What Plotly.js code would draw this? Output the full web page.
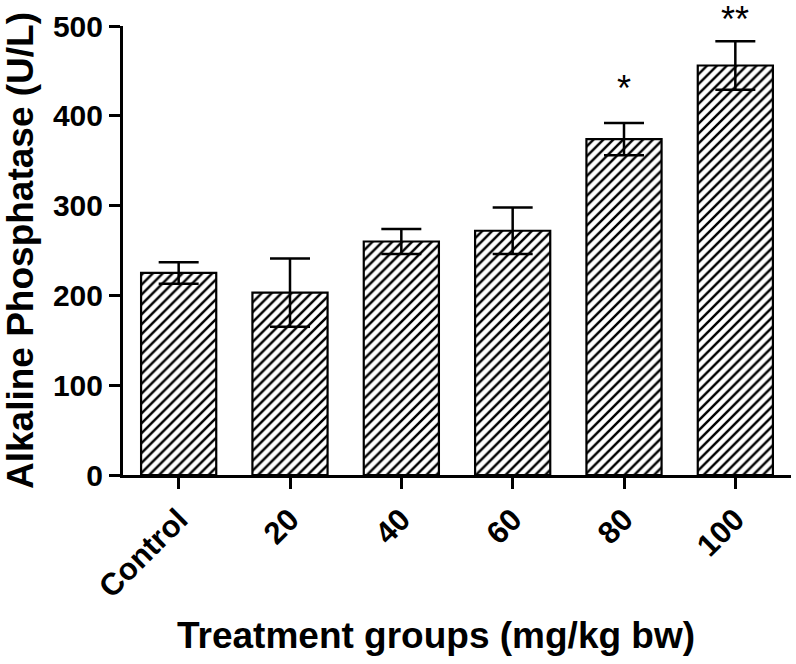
<!DOCTYPE html>
<html>
<head>
<meta charset="utf-8">
<script src="https://cdn.plot.ly/plotly-3.0.1.min.js"></script>
<style>html,body{margin:0;padding:0;background:#fff;}#chart{width:796px;height:664px;}</style>
</head>
<body>
<div id="chart"></div>
<script>
const groups = ["Control", "20", "40", "60", "80", "100"];
const alpValues = [225, 203, 260, 272, 374, 456];
const alpErrors = [12, 38, 14, 26, 18, 27];
const significance = ["", "", "", "", "*", "**"];
const starShift = [0, 0, 0, 0, 13, 0];

const FONT = "Liberation Sans, Arial, Helvetica, sans-serif";

const trace = {
  type: "bar",
  x: groups,
  y: alpValues,
  width: 0.675,
  marker: {
    color: "#ffffff",
    line: {color: "#000000", width: 2.2},
    pattern: {shape: "/", fgcolor: "#000000", bgcolor: "#ffffff", size: 7, solidity: 0.35}
  },
  error_y: {type: "data", array: alpErrors, visible: true, color: "#000000", thickness: 2.5, width: 20},
  hoverinfo: "skip",
  cliponaxis: false
};

const annotations = [];
groups.forEach((g, i) => {
  if (significance[i]) {
    annotations.push({
      x: i, y: alpValues[i] + alpErrors[i], xref: "x", yref: "y",
      text: significance[i], showarrow: false, yanchor: "bottom", yshift: starShift[i],
      borderpad: 0,
      font: {family: FONT, size: 36, color: "#000"}
    });
  }
});
annotations.push({
  xref: "paper", yref: "paper", x: (436 - 123) / 668, y: -(648 - 475) / 449,
  xanchor: "center", yanchor: "bottom", yshift: -10, showarrow: false,
  text: "Treatment groups (mg/kg bw)",
  font: {family: FONT, size: 37, weight: "bold", color: "#000"}
});

const layout = {
  width: 796, height: 664,
  margin: {l: 123, r: 5, t: 26, b: 189},
  paper_bgcolor: "#fff", plot_bgcolor: "#fff",
  showlegend: false,
  font: {family: FONT, color: "#000"},
  xaxis: {
    type: "category", range: [-0.5, 5.5],
    showline: true, linecolor: "#000", linewidth: 3,
    ticks: "outside", ticklen: 11, tickwidth: 3, tickcolor: "#000",
    tickangle: -45, showgrid: false, zeroline: false,
    tickfont: {family: FONT, size: 31, weight: "bold", color: "#000"},
    automargin: false
  },
  yaxis: {
    range: [0, 500], dtick: 100, tick0: 0,
    showline: true, linecolor: "#000", linewidth: 3,
    ticks: "outside", ticklen: 11, tickwidth: 3, tickcolor: "#000",
    showgrid: false, zeroline: false,
    tickfont: {family: FONT, size: 30, weight: "bold", color: "#000"},
    title: {text: "Alkaline Phosphatase (U/L)", font: {family: FONT, size: 37, weight: "bold", color: "#000"}, standoff: 8},
    automargin: false
  },
  annotations: annotations
};

Plotly.newPlot("chart", [trace], layout, {displayModeBar: false, staticPlot: true});
</script>
</body>
</html>
